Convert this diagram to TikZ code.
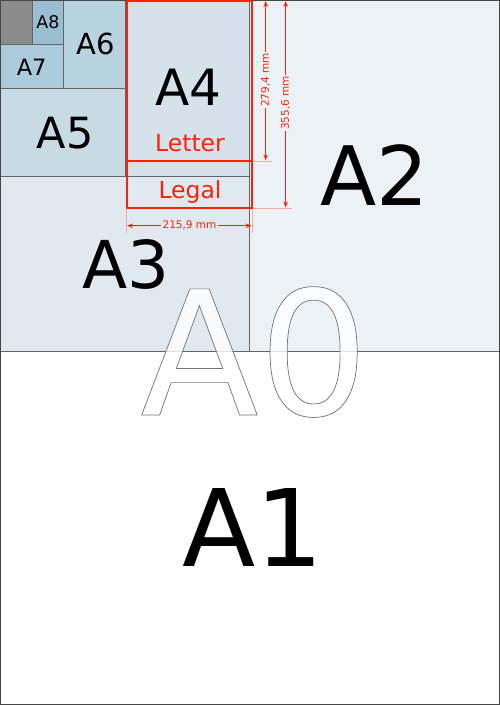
\documentclass[tikz,border=0pt]{standalone}
\usepackage{fontspec}
\setmainfont{DejaVu Sans}
\usetikzlibrary{arrows.meta}
\definecolor{cAtwo}{RGB}{235,241,245}
\definecolor{cAthree}{RGB}{224,233,240}
\definecolor{cAfour}{RGB}{213,226,234}
\definecolor{cAfive}{RGB}{200,219,229}
\definecolor{cAsix}{RGB}{186,211,224}
\definecolor{cAseven}{RGB}{171,202,219}
\definecolor{cAeight}{RGB}{153,190,210}
\definecolor{cGrey}{RGB}{140,140,140}
\definecolor{cLine}{RGB}{100,100,100}
\definecolor{cBorder}{RGB}{70,70,70}
\definecolor{cRed}{RGB}{250,34,10}
\definecolor{cPink}{RGB}{245,170,165}
\newcommand{\outlinedtext}[1]{\special{pdf:literal direct 2 Tr 0.7 w 0.45 G}#1\special{pdf:literal direct 0 Tr}}
\begin{document}
\begin{tikzpicture}[x=1pt,y=-1pt,
  divline/.style={draw=cLine,line width=0.9pt},
  lbl/.style={inner sep=0pt,anchor=base},
  redlbl/.style={inner sep=0pt,anchor=base,text=cRed},
  dimlbl/.style={inner sep=1.5pt,text=cRed,font=\fontsize{10.5}{12}\selectfont},
  dimline/.style={draw=cRed,line width=0.9pt,{Stealth[length=6pt,width=4.5pt]}-{Stealth[length=6pt,width=4.5pt]}},
  extline/.style={draw=cPink,line width=0.8pt},
  redbox/.style={draw=cRed,line width=2pt}]
\useasboundingbox (0,0) rectangle (500,705);
% paper regions
\fill[white] (0,0) rectangle (500,705);
\fill[cAtwo] (249,0) rectangle (500,351);
\fill[cAthree] (0,176) rectangle (249,351);
\fill[cAfour] (125,0) rectangle (249,176);
\fill[cAfive] (0,88) rectangle (125,176);
\fill[cAsix] (63,0) rectangle (125,88);
\fill[cAseven] (0,44) rectangle (63,88);
\fill[cAeight] (32,0) rectangle (63,44);
\fill[cGrey] (0,0) rectangle (32,44);
% dividers
\draw[divline] (0,351) -- (500,351);
\draw[divline] (249,0) -- (249,351);
\draw[divline] (0,176) -- (249,176);
\draw[divline] (125,0) -- (125,176);
\draw[divline] (0,88) -- (125,88);
\draw[divline] (63,0) -- (63,88);
\draw[divline] (0,44) -- (63,44);
\draw[divline] (32,0) -- (32,44);
\draw[cBorder,line width=1.2pt] (0.6,0.6) rectangle (499.4,704.4);
% labels
\node[lbl,font=\fontsize{17.5}{18}\selectfont] (a8) at (48,28.3) {A8};
\node[lbl,font=\fontsize{22.5}{23}\selectfont] (a7) at (31.7,75) {A7};
\node[lbl,font=\fontsize{29}{30}\selectfont] (a6) at (95.5,54.3) {A6};
\node[lbl,font=\fontsize{43}{44}\selectfont] (a5) at (65,148.3) {A5};
\node[lbl,font=\fontsize{50}{51}\selectfont] (a4) at (188.3,105) {A4};
\node[lbl,font=\fontsize{66}{67}\selectfont] (a3) at (126,288.3) {A3};
\node[lbl,font=\fontsize{82}{83}\selectfont] (a2) at (375,205) {A2};
\node[lbl,font=\fontsize{107}{108}\selectfont] (a1) at (253,566.7) {A1};
\node[lbl,font=\fontsize{173}{175}\selectfont,text=white,fill opacity=0.8] (a0) at (254.5,415)
  {\outlinedtext{A0}};
% letter / legal
\draw[redbox] (126.5,1) rectangle (252,208);
\draw[redbox] (126.5,161) -- (252,161);
\node[redlbl,font=\fontsize{23.5}{24}\selectfont] (letter) at (190,151.7) {Letter};
\node[redlbl,font=\fontsize{23.5}{24}\selectfont] (legal) at (190,198.3) {Legal};
% extension lines
\coordinate (e1a) at (253,161); \coordinate (e1b) at (272,161);
\coordinate (e2a) at (253,208); \coordinate (e2b) at (292,208);
\coordinate (e3a) at (126.5,209); \coordinate (e3b) at (126.5,233);
\coordinate (e4a) at (252,209); \coordinate (e4b) at (252,233);
\draw[extline] (e1a) -- (e1b);
\draw[extline] (e2a) -- (e2b);
\draw[extline] (e3a) -- (e3b);
\draw[extline] (e4a) -- (e4b);
% dimension arrows
\coordinate (d1a) at (265.7,1); \coordinate (d1b) at (265.7,160.5);
\coordinate (d2a) at (285.7,1); \coordinate (d2b) at (285.7,207.5);
\coordinate (d3a) at (127,225.7); \coordinate (d3b) at (251.5,225.7);
\draw[dimline] (d1a) -- (d1b);
\draw[dimline] (d2a) -- (d2b);
\draw[dimline] (d3a) -- (d3b);
\node[dimlbl,fill=cAtwo,rotate=90] (h1) at (265.7,80) {279,4 mm};
\node[dimlbl,fill=cAtwo,rotate=90] (h2) at (285.7,103) {355,6 mm};
\node[dimlbl,fill=cAthree] (w1) at (189.5,225.7) {215,9 mm};
\end{tikzpicture}
\end{document}
